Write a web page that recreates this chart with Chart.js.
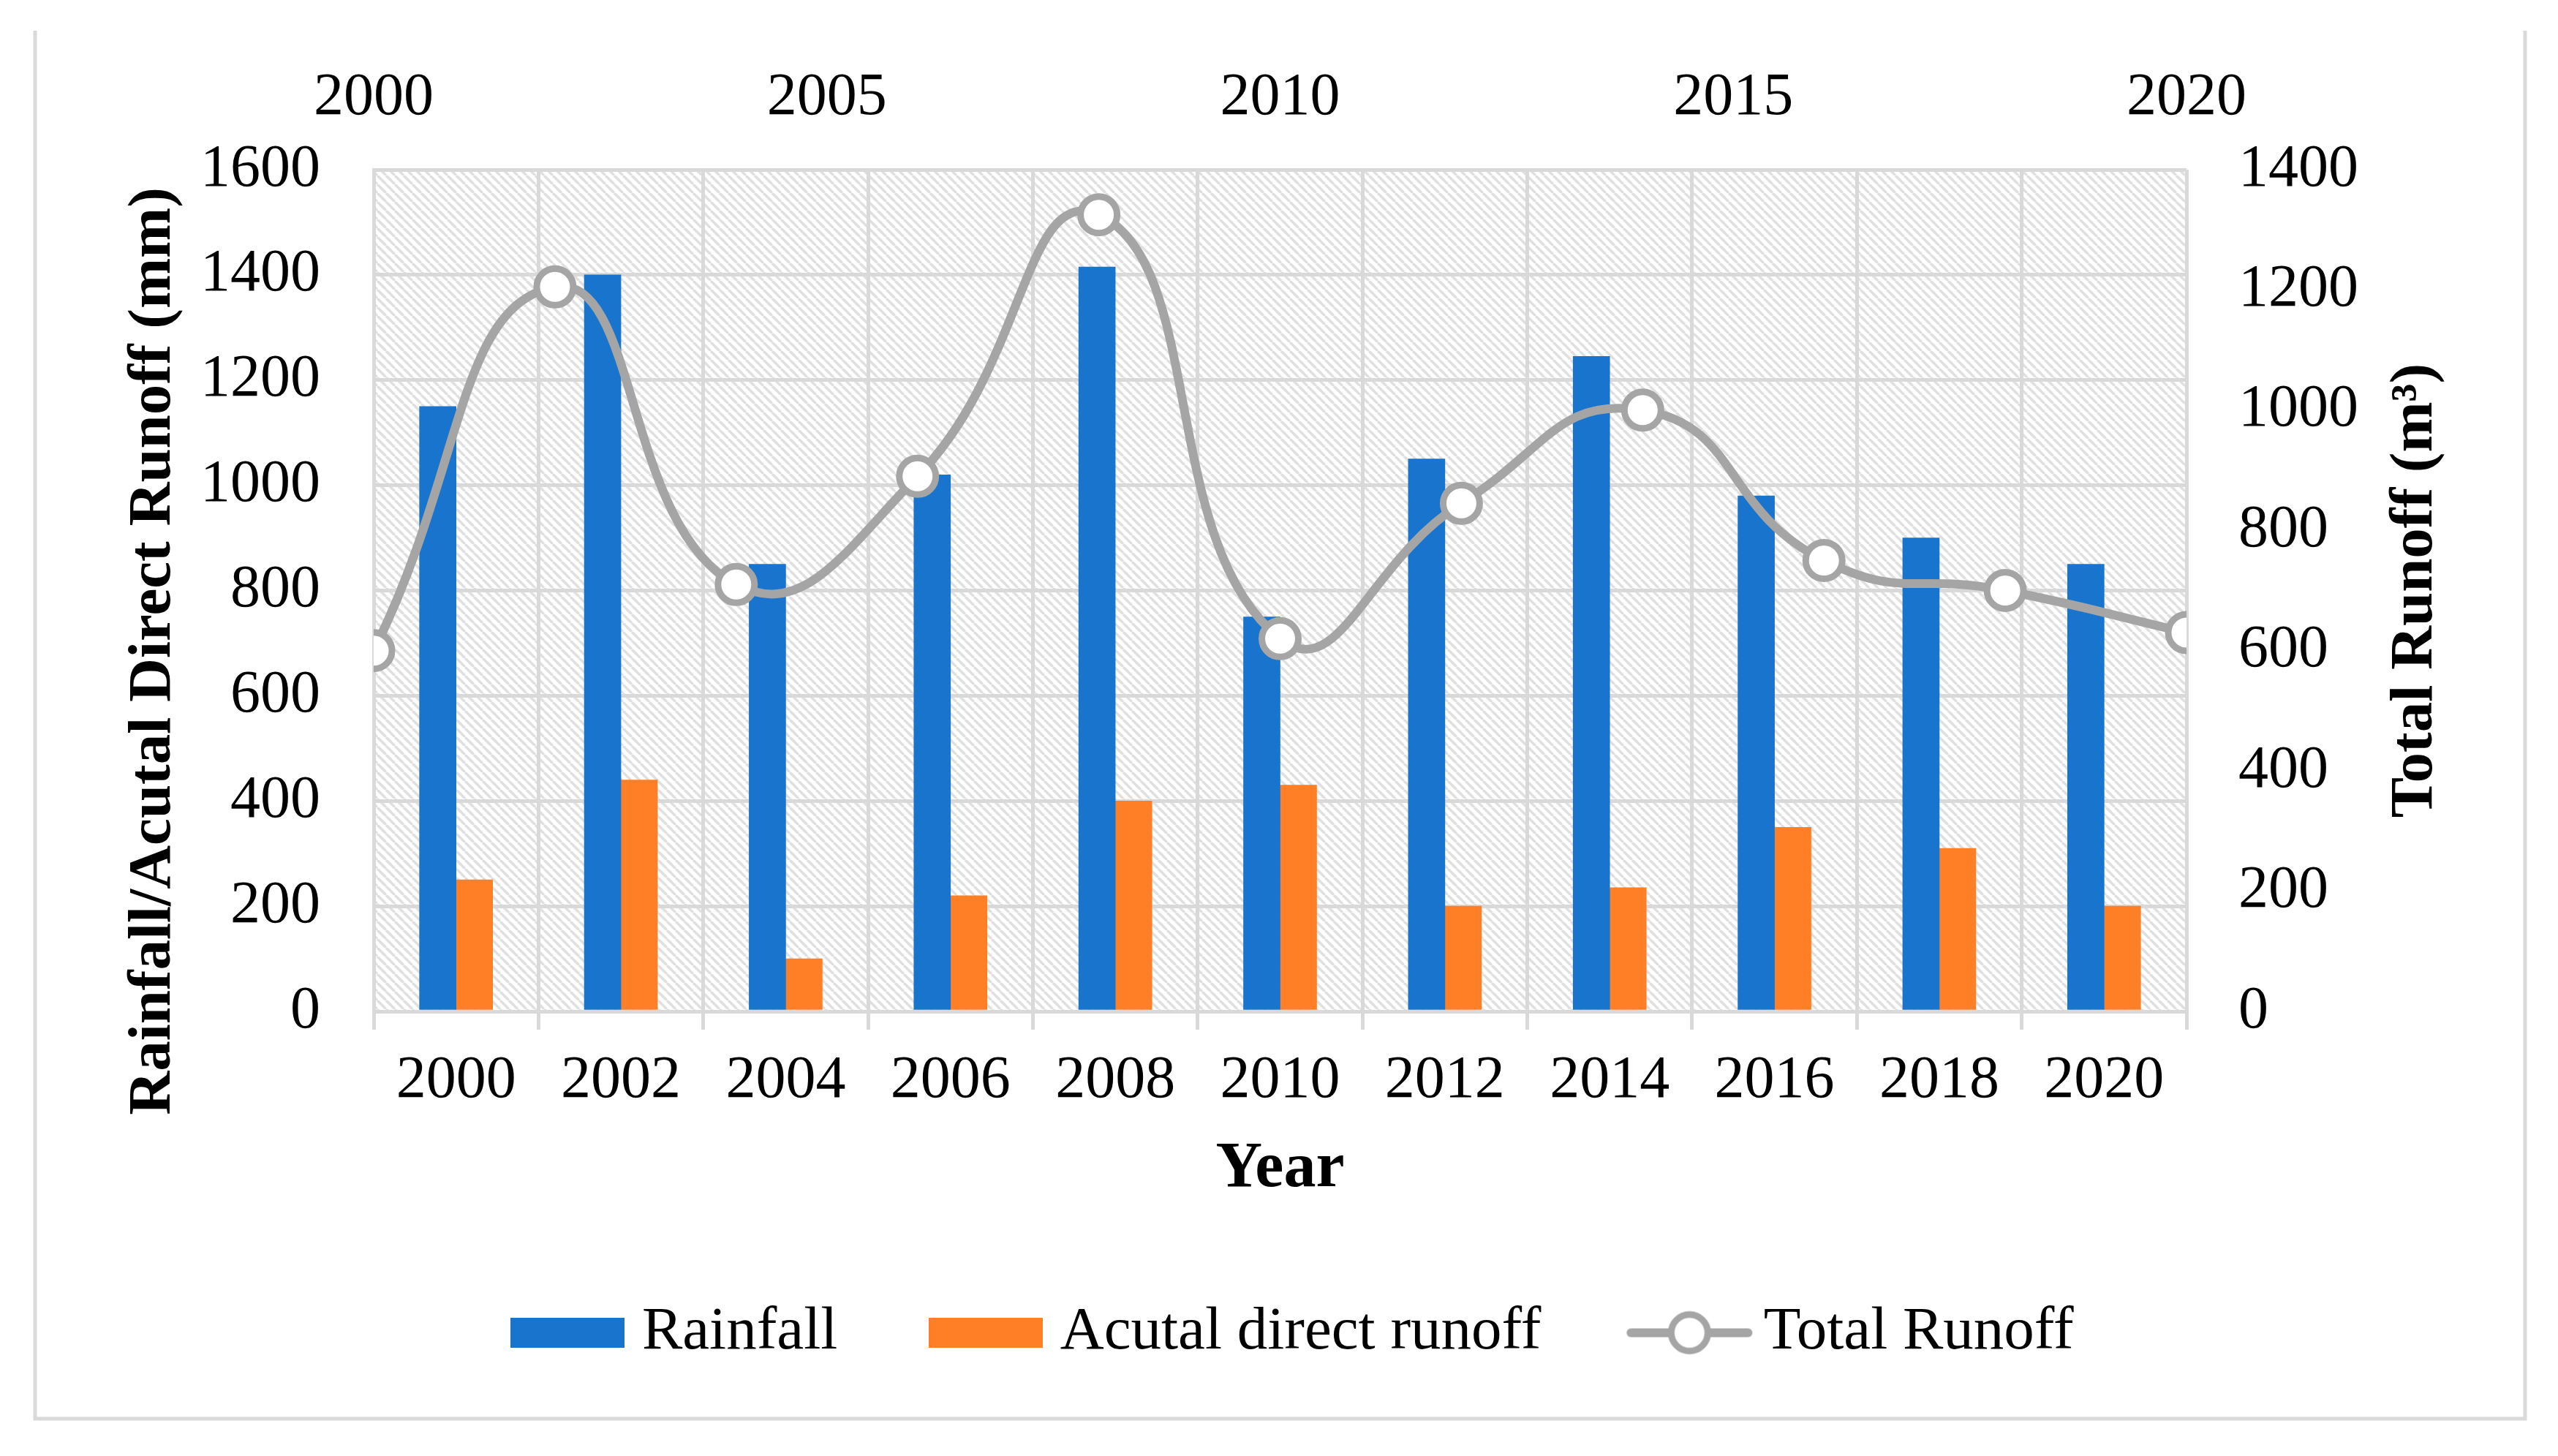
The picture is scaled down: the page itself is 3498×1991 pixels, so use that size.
<!DOCTYPE html>
<html>
<head>
<meta charset="utf-8">
<script src="https://cdn.jsdelivr.net/npm/chart.js@4.4.1/dist/chart.umd.min.js"></script>
<style>
  html, body { margin: 0; padding: 0; background: #fff; }
  canvas { display: block; }
</style>
</head>
<body>
<canvas id="chart" width="3498" height="1991"></canvas>
<script>
// values
const years = ['2000', '2002', '2004', '2006', '2008', '2010', '2012', '2014', '2016', '2018', '2020'];
const rainfall = [1150, 1400, 850, 1020, 1415, 750, 1050, 1245, 980, 900, 850];
const directRunoff = [250, 440, 100, 220, 400, 430, 200, 235, 350, 310, 200];
const runoffYears = [2000, 2002, 2004, 2006, 2008, 2010, 2012, 2014, 2016, 2018, 2020];
const totalRunoff = [600, 1205, 710, 890, 1325, 620, 845, 1000, 750, 700, 630];

const GRID = '#D9D9D9';
const BLUE = '#1874CD';
const ORANGE = '#FF7F27';
const GREY = '#A5A5A5';
const NB = '\u00A0';
const SERIF = "'Liberation Serif', 'Times New Roman', serif";

Chart.defaults.font.family = SERIF;
Chart.defaults.color = '#000';

function makeBox(color) {
  const c = document.createElement('canvas');
  c.width = 156; c.height = 41;
  const g = c.getContext('2d');
  g.fillStyle = color;
  g.fillRect(0, 0, c.width, c.height);
  return c;
}

function makeLineIcon() {
  const c = document.createElement('canvas');
  c.width = 176; c.height = 64;
  const g = c.getContext('2d');
  g.strokeStyle = GREY;
  g.lineWidth = 12;
  g.lineCap = 'round';
  g.beginPath(); g.moveTo(8, 32); g.lineTo(168, 32); g.stroke();
  g.beginPath(); g.arc(88, 32, 25, 0, Math.PI * 2);
  g.fillStyle = '#fff'; g.fill();
  g.lineWidth = 9; g.stroke();
  return c;
}

function makeHatch() {
  const s = 12;
  const c = document.createElement('canvas');
  c.width = s; c.height = s;
  const g = c.getContext('2d');
  g.fillStyle = '#fff';
  g.fillRect(0, 0, s, s);
  g.strokeStyle = '#E0E0E0';
  g.lineWidth = 3.5;
  for (const x0 of [-s, 0, s]) {
    g.beginPath(); g.moveTo(x0, 0); g.lineTo(x0 + s, s); g.stroke();
  }
  return c;
}

// legend icons by dataset index (line first, then the two bar series)
const legendIcons = [makeLineIcon(), makeBox(BLUE), makeBox(ORANGE)];
const legendRank = [2, 0, 1];

// white page, open frame and hatched plot area, all under the grid
const backdrop = {
  id: 'backdrop',
  beforeDraw(chart) {
    const { ctx, chartArea: a, width, height } = chart;
    ctx.save();
    ctx.fillStyle = '#fff';
    ctx.fillRect(0, 0, width, height);
    ctx.strokeStyle = GRID;
    ctx.lineWidth = 5;
    ctx.beginPath();
    ctx.moveTo(48, 42); ctx.lineTo(48, 1940); ctx.lineTo(3453, 1940); ctx.lineTo(3453, 42);
    ctx.stroke();
    ctx.fillStyle = ctx.createPattern(makeHatch(), 'repeat');
    ctx.fillRect(a.left, a.top, a.right - a.left, a.bottom - a.top);
    ctx.restore();
  }
};

// right axis title reads bottom-to-top like the left one
const rightTitle = {
  id: 'rightTitle',
  afterDraw(chart) {
    const { ctx, chartArea: a } = chart;
    ctx.save();
    ctx.translate(3304, (a.top + a.bottom) / 2);
    ctx.rotate(-Math.PI / 2);
    ctx.font = 'bold 83px ' + SERIF;
    ctx.fillStyle = '#000';
    ctx.textAlign = 'center';
    ctx.textBaseline = 'middle';
    ctx.fillText('Total Runoff (m\u00B3)', 0, 0);
    ctx.restore();
  }
};

const tickFont = { size: 82 };
const titleFont = { size: 83, weight: 'bold' };

new Chart(document.getElementById('chart'), {
  type: 'bar',
  data: {
    labels: years,
    datasets: [
      {
        type: 'line',
        label: 'Total Runoff',
        data: runoffYears.map((yr, i) => ({ x: yr, y: totalRunoff[i] })),
        borderColor: GREY,
        borderWidth: 12,
        tension: 0.5,
        pointRadius: 25,
        pointBorderWidth: 9,
        pointBackgroundColor: '#fff',
        pointBorderColor: GREY,
        xAxisID: 'x2',
        yAxisID: 'y2',
        order: -1
      },
      {
        label: 'Rainfall',
        data: rainfall,
        backgroundColor: BLUE,
        barThickness: 50,
        stack: 'rain',
        xAxisID: 'x',
        yAxisID: 'y',
        order: 1
      },
      {
        label: 'Acutal direct runoff',
        data: directRunoff,
        backgroundColor: ORANGE,
        barThickness: 50,
        stack: 'direct',
        xAxisID: 'x',
        yAxisID: 'y',
        order: 1
      }
    ]
  },
  options: {
    responsive: false,
    animation: false,
    devicePixelRatio: 1,
    layout: { padding: { left: 54, right: 0, top: 0, bottom: 117 } },
    plugins: {
      tooltip: { enabled: false },
      legend: {
        position: 'bottom',
        labels: {
          usePointStyle: true,
          pointStyleWidth: 120,
          padding: 143,
          color: '#000',
          font: { size: 83 },
          sort: (a, b) => legendRank[a.datasetIndex] - legendRank[b.datasetIndex],
          generateLabels: (chart) => {
            const items = Chart.defaults.plugins.legend.labels.generateLabels(chart);
            items.forEach(it => { it.pointStyle = legendIcons[it.datasetIndex]; });
            return items;
          }
        }
      }
    },
    scales: {
      x: {
        type: 'category',
        position: 'bottom',
        offset: true,
        grid: { display: true, offset: true, color: GRID, lineWidth: 5, drawTicks: true, tickLength: 25, tickColor: GRID, tickWidth: 5 },
        border: { display: true, color: GRID, width: 5 },
        ticks: { padding: 21, color: '#000', font: tickFont, maxRotation: 0, autoSkip: false },
        title: { display: true, text: 'Year', color: '#000', font: { size: 88, weight: 'bold' }, padding: { top: 0, bottom: -14 } },
        afterFit: s => { s.height = 255; }
      },
      x2: {
        type: 'linear',
        position: 'top',
        min: 2000,
        max: 2020,
        offset: false,
        grid: { display: false, offset: false, drawTicks: false },
        border: { display: false },
        ticks: { stepSize: 5, padding: 48, color: '#000', font: tickFont, callback: v => String(v) },
        afterFit: s => { s.height = 232; }
      },
      y: {
        position: 'left',
        min: 0,
        max: 1600,
        grid: { color: GRID, lineWidth: 5, drawTicks: false },
        border: { display: true, color: GRID, width: 5 },
        ticks: { stepSize: 200, padding: 73, color: '#000', font: tickFont, callback: v => String(v) },
        title: {
          display: true,
          text: 'Rainfall/Acutal Direct Runoff (mm)' + NB.repeat(8),
          color: '#000',
          font: titleFont,
          padding: { top: 107, bottom: 0 }
        },
        afterFit: s => { s.width = 457; }
      },
      y2: {
        position: 'right',
        min: 0,
        max: 1400,
        grid: { display: false, drawTicks: false },
        border: { display: false },
        ticks: { stepSize: 200, padding: 71, color: '#000', font: tickFont, callback: v => String(v) },
        title: { display: false },
        afterFit: s => { s.width = 508; }
      }
    }
  },
  plugins: [backdrop, rightTitle]
});
</script>
</body>
</html>
